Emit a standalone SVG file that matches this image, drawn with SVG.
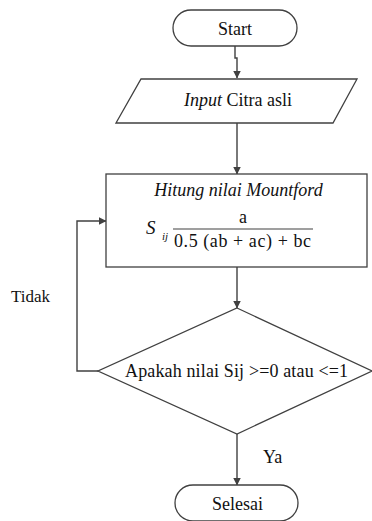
<svg xmlns="http://www.w3.org/2000/svg" width="372" height="521" viewBox="0 0 372 521" font-family="Liberation Serif, DejaVu Serif, serif" font-size="18">
<style>
.s{fill:#fff;stroke:#404040;stroke-width:1.3}
.c{fill:none;stroke:#404040;stroke-width:1.4}
text{fill:#111}
.m{text-anchor:middle}
.i{font-style:italic}
</style>
<defs>
<marker id="ah" markerWidth="8" markerHeight="8" refX="7.5" refY="4" orient="auto" markerUnits="userSpaceOnUse">
<path d="M0,0 L8,4 L0,8 Z" fill="#404040"/>
</marker>
</defs>
<rect width="372" height="521" fill="#fff"/>
<g id="connectors">
<path class="c" d="M235,46 V58 H237 V78" marker-end="url(#ah)"/>
<path class="c" d="M237,123 V174" marker-end="url(#ah)"/>
<path class="c" d="M237,267 V308" marker-end="url(#ah)"/>
<path class="c" d="M98,371 H77 V221 H106" marker-end="url(#ah)"/>
<path class="c" d="M237,434 V485" marker-end="url(#ah)"/>
</g>
<g id="start">
<rect class="s" x="173" y="10" width="124" height="36" rx="18" ry="18"/>
<text class="m" x="235" y="35" font-family="Liberation Serif, serif">Start</text>
</g>
<g id="input">
<polygon class="s" points="141,79 357,79 333,123 116,123"/>
<text class="m" x="238" y="106"><tspan class="i">Input</tspan> Citra asli</text>
</g>
<g id="process">
<rect class="s" x="106" y="174" width="261" height="93"/>
<text class="m i" x="238.5" y="196">Hitung nilai Mountford</text>
<text class="i" x="146" y="234" font-size="19">S</text>
<text class="i" x="162" y="240" font-size="11">ij</text>
<text class="m" x="243" y="223">a</text>
<line x1="173" y1="229" x2="313" y2="229" stroke="#404040" stroke-width="1.2"/>
<text class="m" x="242.5" y="247" textLength="137">0.5 (ab + ac) + bc</text>
</g>
<g id="decision">
<polygon class="s" points="237,308 372,371 237,434 98,371"/>
<text class="m" x="236.5" y="377" textLength="223">Apakah nilai Sij &gt;=0 atau &lt;=1</text>
</g>
<g id="end">
<rect class="s" x="175" y="485" width="123" height="36" rx="18" ry="18"/>
<text class="m" x="237.5" y="510">Selesai</text>
</g>
<g id="labels">
<text x="11" y="301.5" font-size="17">Tidak</text>
<text x="263" y="463">Ya</text>
</g>
</svg>
